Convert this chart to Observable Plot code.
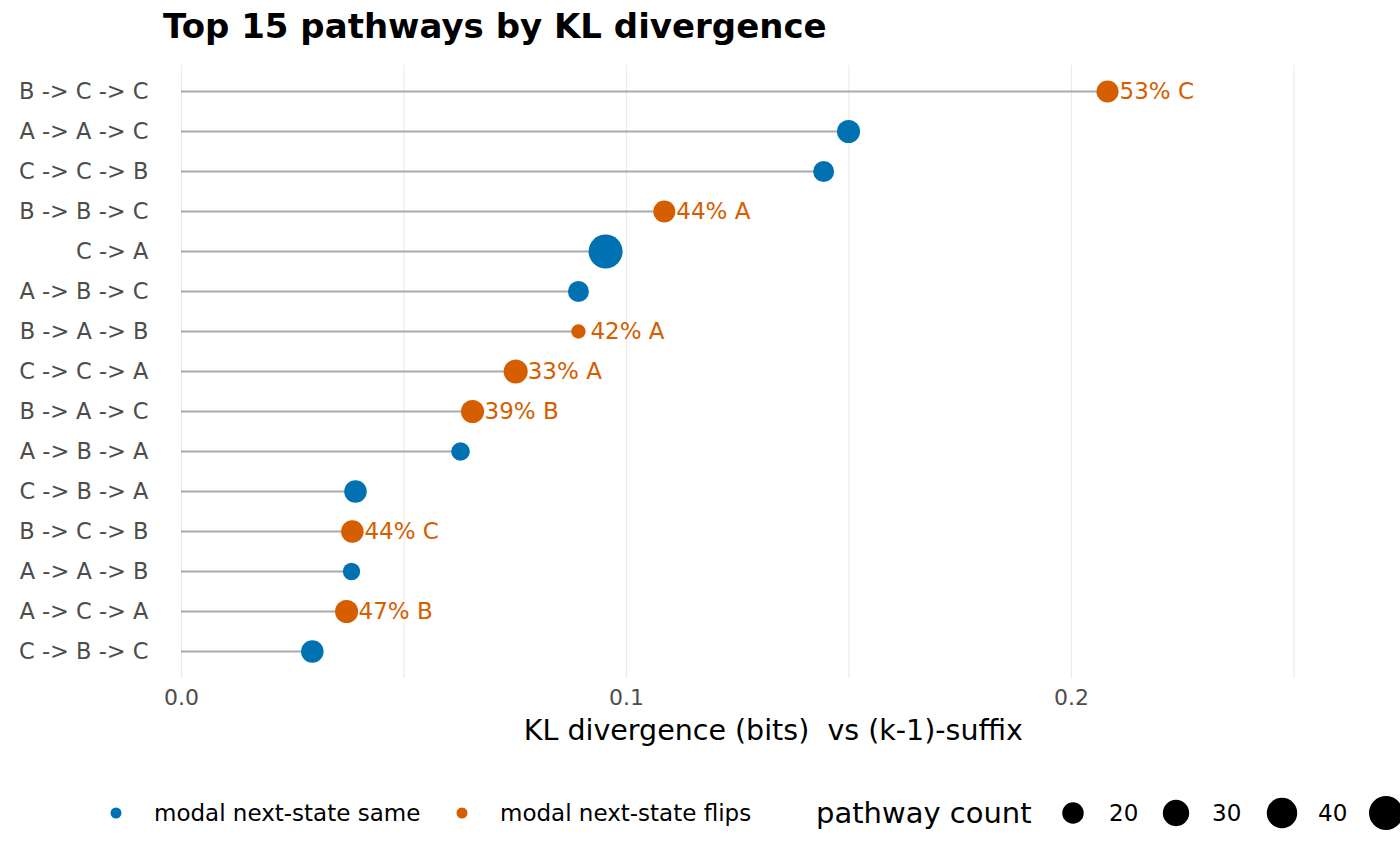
<!DOCTYPE html>
<html><head><meta charset="utf-8">
<script src="https://cdn.jsdelivr.net/npm/d3@7"></script>
<script src="https://cdn.jsdelivr.net/npm/@observablehq/plot@0.6"></script>
<style>
body{margin:0;background:#fff;font-family:"DejaVu Sans",sans-serif;}
#wrap{position:relative;width:1400px;height:866px;}
#title{position:absolute;left:163px;top:6px;font-size:34px;font-weight:bold;color:#000;}
#legend{position:absolute;left:0;top:786px;width:1400px;height:56px;}
</style></head><body>
<div id="wrap"><div id="chart"></div><div id="title">Top 15 pathways by KL divergence</div>
<svg id="legend" width="1400" height="56"></svg></div>
<script>
const pathways = ["B -> C -> C","A -> A -> C","C -> C -> B","B -> B -> C","C -> A","A -> B -> C","B -> A -> B","C -> C -> A","B -> A -> C","A -> B -> A","C -> B -> A","B -> C -> B","A -> A -> B","A -> C -> A","C -> B -> C"];
const kl = [0.2081,0.1499,0.1443,0.1085,0.0953,0.0892,0.0892,0.0751,0.0654,0.0627,0.0391,0.0384,0.0382,0.0371,0.0294];
const counts = [21,23,19,21,50,19,9,25,23,15,22,22,13,23,22];
const flips = [true,false,false,true,false,false,true,true,true,false,false,true,false,true,false];
const flipLabels = ["53% C","","","44% A","","","42% A","33% A","39% B","","","44% C","","47% B",""];
const data = pathways.map((p,i)=>({p,kl:kl[i],n:counts[i],flip:flips[i],lab:flipLabels[i]}));
const blue="#0072B2", orange="#D55E00";
const rScale = d3.scaleSqrt().domain([0,50]).range([0,17]);
const chart = Plot.plot({
  width:1400, height:786, marginLeft:0, marginRight:0, marginTop:0, marginBottom:0,
  style:{fontFamily:"DejaVu Sans",background:"#fff"},
  x:{domain:[0,0.25], range:[181,1293.5], axis:null},
  y:{type:"point", domain:pathways, range:[87,654], padding:0, axis:null},
  r:{type:"sqrt", domain:[0,50], range:[0,17]},
  marks:[
    Plot.ruleX([0,0.05,0.1,0.15,0.2,0.25],{x:d=>d,insetTop:65,insetBottom:108,stroke:"#ebebeb",strokeWidth:1.2,strokeOpacity:1}),
    Plot.ruleY(data,{y:"p",x1:0,x2:"kl",stroke:"#aaaaaa",strokeWidth:2.2,strokeOpacity:1}),
    Plot.dot(data,{x:"kl",y:"p",r:"n",fill:d=>d.flip?orange:blue,stroke:null}),
    Plot.text(data.filter(d=>d.lab),{x:"kl",y:"p",text:"lab",dx:12,textAnchor:"start",fill:orange,fontSize:23}),
    Plot.text(data,{x:0,y:"p",text:"p",dx:-33,textAnchor:"end",fill:"#4d4d4d",fontSize:22.5}),
    Plot.text([0,0.1,0.2],{x:d=>d,y:()=>pathways[14],dy:46,text:d=>d.toFixed(1),fill:"#4d4d4d",fontSize:22}),
    Plot.text(["KL divergence (bits)  vs (k-1)-suffix"],{x:0.133,y:()=>pathways[14],dy:79,text:d=>d,fill:"#000",fontSize:28.5})
  ]
});
document.getElementById("chart").appendChild(chart);
const lg = d3.select("#legend");
const cy = 27;
[[116,blue,"modal next-state same"],[462,orange,"modal next-state flips"]].forEach(([x,c,t])=>{
  lg.append("circle").attr("cx",x).attr("cy",cy).attr("r",5.5).attr("fill",c);
  lg.append("text").attr("x",x+38).attr("y",cy+8).attr("font-size",23).attr("fill","#000").text(t);
});
lg.append("text").attr("x",816).attr("y",cy+10).attr("font-size",29).text("pathway count");
[[1073,20],[1176,30],[1282,40],[1386,50]].forEach(([x,v])=>{
  lg.append("circle").attr("cx",x).attr("cy",cy).attr("r",rScale(v)).attr("fill","#000");
  if(v<50) lg.append("text").attr("x",x+36).attr("y",cy+8).attr("font-size",23).text(v);
});
</script></body></html>
